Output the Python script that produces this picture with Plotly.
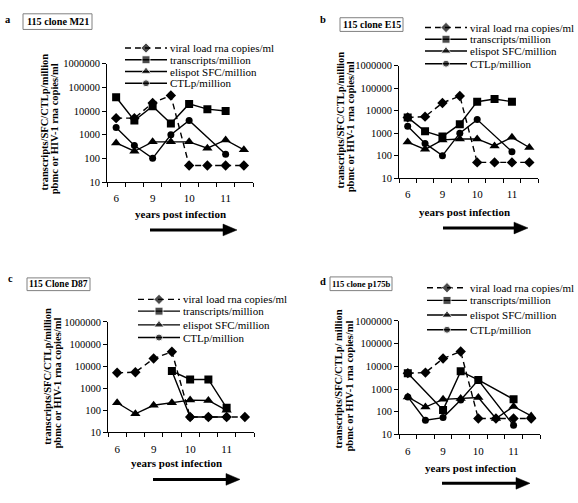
import plotly.graph_objects as go

W, H = 578, 503

# ---------------- data ----------------
POSITIONS = [0, 1, 2, 3, 4, 5, 6, 7]
X_TICK_VALS = [0, 2, 4, 6]
X_TICK_TEXT = ["6", "9", "10", "11"]
Y_TICK_VALS = [10, 100, 1000, 10000, 100000, 1000000]
Y_TICK_TEXT = ["10", "100", "1000", "10000", "100000", "1000000"]

SERIES_NAMES = ["viral load rna copies/ml", "transcripts/million",
                "elispot SFC/million", "CTLp/million"]

a_viral = [5000, 5000, 22000, 45000, 50, 50, 50, 50]
a_trans = [38000, 4000, 16000, 3000, 20000, 12000, 10000, None]
a_elis = [450, 200, 500, 500, 500, 270, 600, 230]
a_ctl = [2000, 350, 100, 1000, 4000, None, 150, None]

b_viral = [5000, 5400, 22000, 45000, 50, 50, 50, 50]
b_trans = [5000, 1200, 700, 2500, 25000, 33000, 25000, None]
b_elis = [400, 190, 500, 550, 550, 270, 650, 230]
b_ctl = [2000, 350, 100, 1000, 4000, None, 150, None]

c_viral = [5000, 5300, 22000, 45000, 50, 50, 50, 50]
c_trans = [None, None, None, 6000, 2500, 2500, 130, None]
c_elis = [220, 70, 170, 220, 290, 280, 100, None]
c_ctl = [None, None, None, 6000, 50, 50, 50, None]

d_viral = [5000, 5300, 22000, 45000, 50, 50, 50, 50]
d_trans = [5000, None, 120, 6000, 2500, None, 350, None]
d_elis = [450, 160, 350, 380, 420, 50, 170, 65]
d_ctl = [450, 42, 55, 330, 2500, None, 25, None]

TITLES = ["115 clone M21", "115 clone E15", "115 Clone D87", "115 clone p175b"]
LETTERS = ["a", "b", "c", "d"]
Y_TITLE_1 = ["transcripts/SFC/CTLp/million", "transcripts/SFC/CTLp/million",
             "transcripts/SFC/CTLp/million", "transcripts/SFC/CTLp/ million"]
Y_TITLE_2 = "pbmc or HIV-1 rna copies/ml"
X_TITLE = "years post infection"

# ---------------- layout geometry (pixels) ----------------
panels = [
    dict(data=[a_viral, a_trans, a_elis, a_ctl], x0=107, x1=253, ytop=60, ybot=181,
         letter=(8, 15), box=(23, 92, 9, 25), tsize=10.2, leg=(125, 167, [44, 56, 68, 80]),
         ytitle=(44, 54, 120, 127), xtitle=(180, 214), arrow=(150, 237, 230)),
    dict(data=[b_viral, b_trans, b_elis, b_ctl], x0=399, x1=538, ytop=62, ybot=177,
         letter=(323, 15), box=(340, 403, 13, 27), tsize=10, leg=(425, 467, [23, 35, 47, 60]),
         ytitle=(340, 350, 118, 125), xtitle=(464, 212), arrow=(443, 528, 228)),
    dict(data=[c_viral, c_trans, c_elis, c_ctl], x0=108, x1=254, ytop=324, ybot=437,
         letter=(10, 280), box=(27, 90, 279, 292), tsize=9.5, leg=(138, 180, [301, 313, 327, 340]),
         ytitle=(48, 58, 380, 387), xtitle=(176, 468), arrow=(153, 240, 485)),
    dict(data=[d_viral, d_trans, d_elis, d_ctl], x0=399, x1=540, ytop=323, ybot=439,
         letter=(323, 283), box=(330, 392, 278, 292), tsize=8.6, leg=(427, 467, [289, 302, 317, 332]),
         ytitle=(339, 349, 383, 390), xtitle=(470, 473), arrow=(442, 530, 489)),
]

SYMBOLS = ["diamond", "square", "triangle-up", "circle"]
SIZES = [8, 8, 9, 7]
DASHES = ["6px,4px", "solid", "solid", "solid"]

SERIF = "Liberation Serif, Times New Roman, Times, serif"

fig = go.Figure()
layout = dict(
    width=W, height=H, margin=dict(l=0, r=0, t=0, b=0),
    paper_bgcolor="white", plot_bgcolor="rgba(0,0,0,0)", showlegend=False,
    font=dict(family=SERIF, color="black"),
)
annotations = []
shapes = []

for i, p in enumerate(panels):
    n = i + 1
    xa = "x" if n == 1 else f"x{n}"
    ya = "y" if n == 1 else f"y{n}"
    for k, vals in enumerate(p["data"]):
        fig.add_trace(go.Scatter(
            x=POSITIONS, y=vals, xaxis=xa, yaxis=ya, mode="lines+markers",
            connectgaps=True, name=SERIES_NAMES[k],
            line=dict(color="black", width=1.4, dash=DASHES[k]),
            marker=dict(symbol=SYMBOLS[k], size=SIZES[k], color="black"),
            hoverinfo="skip"))
    layout["xaxis" if n == 1 else f"xaxis{n}"] = dict(
        domain=[p["x0"] / W, p["x1"] / W], anchor=ya, range=[-0.5, 7.5],
        showline=True, linecolor="black", linewidth=1, showgrid=False, zeroline=False,
        tickmode="array", tickvals=X_TICK_VALS, ticktext=X_TICK_TEXT,
        ticks="outside", ticklen=6, tickcolor="rgba(0,0,0,0)",
        tickfont=dict(size=11, family=SERIF),
        minor=dict(tickmode="array", tickvals=[v - 0.5 for v in range(9)],
                   ticks="outside", ticklen=4, tickcolor="black", showgrid=False),
        fixedrange=True)
    layout["yaxis" if n == 1 else f"yaxis{n}"] = dict(
        domain=[1 - p["ybot"] / H, 1 - p["ytop"] / H], anchor=xa, type="log",
        range=[1, 6], showline=True, linecolor="black", linewidth=1,
        showgrid=False, zeroline=False, tickmode="array",
        tickvals=Y_TICK_VALS, ticktext=Y_TICK_TEXT, ticks="outside", ticklen=4,
        tickcolor="black", tickfont=dict(size=10.5, family=SERIF), fixedrange=True)

    # panel letter
    annotations.append(dict(x=p["letter"][0], y=p["letter"][1], xref="x5", yref="y5",
                            text="<b>" + LETTERS[i] + "</b>", showarrow=False,
                            xanchor="center", yanchor="middle",
                            font=dict(size=10.5, family=SERIF)))
    # title box
    bx0, bx1, by0, by1 = p["box"]
    shapes.append(dict(type="rect", xref="x5", yref="y5", x0=bx0, x1=bx1, y0=by0, y1=by1,
                       line=dict(color="#808080", width=1)))
    annotations.append(dict(x=(bx0 + bx1) / 2, y=(by0 + by1) / 2, xref="x5", yref="y5",
                            text="<b>" + TITLES[i] + "</b>", showarrow=False,
                            xanchor="center", yanchor="middle",
                            font=dict(size=p["tsize"], family=SERIF)))
    # legend
    lx0, lx1, rows = p["leg"]
    for k, ry in enumerate(rows):
        fig.add_trace(go.Scatter(
            x=[lx0, (lx0 + lx1) / 2, lx1], y=[ry, ry, ry], xaxis="x5", yaxis="y5",
            mode="lines+markers", line=dict(color="black", width=1.4, dash=DASHES[k]),
            marker=dict(symbol=SYMBOLS[k], size=[0, SIZES[k], 0], color="black"),
            hoverinfo="skip"))
        annotations.append(dict(x=lx1 + 1, y=ry, xref="x5", yref="y5",
                                text=SERIES_NAMES[k], showarrow=False,
                                xanchor="left", yanchor="middle",
                                font=dict(size=11, family=SERIF)))
    # y title (two lines)
    tx1, tx2, ty1, ty2 = p["ytitle"]
    annotations.append(dict(x=tx1, y=ty1, xref="x5", yref="y5",
                            text="<b>" + Y_TITLE_1[i] + "</b>", showarrow=False,
                            textangle=-90, xanchor="center", yanchor="middle",
                            font=dict(size=10.5, family=SERIF)))
    annotations.append(dict(x=tx2, y=ty2, xref="x5", yref="y5",
                            text="<b>" + Y_TITLE_2 + "</b>", showarrow=False,
                            textangle=-90, xanchor="center", yanchor="middle",
                            font=dict(size=10.5, family=SERIF)))
    # x title
    annotations.append(dict(x=p["xtitle"][0], y=p["xtitle"][1], xref="x5", yref="y5",
                            text="<b>" + X_TITLE + "</b>", showarrow=False,
                            xanchor="center", yanchor="middle",
                            font=dict(size=11, family=SERIF)))
    # arrow
    ax0, ax1, ay = p["arrow"]
    shapes.append(dict(type="line", xref="x5", yref="y5", x0=ax0, x1=ax1 - 12, y0=ay, y1=ay,
                       line=dict(color="black", width=3)))
    shapes.append(dict(type="path", xref="x5", yref="y5",
                       path=f"M {ax1 - 14},{ay - 6} L {ax1},{ay} L {ax1 - 14},{ay + 6} Z",
                       fillcolor="black", line=dict(color="black", width=0.5)))

layout["xaxis5"] = dict(domain=[0, 1], range=[0, W], visible=False, fixedrange=True,
                        anchor="y5")
layout["yaxis5"] = dict(domain=[0, 1], range=[H, 0], visible=False, fixedrange=True,
                        anchor="x5")
layout["annotations"] = annotations
layout["shapes"] = shapes
fig.update_layout(**layout)
fig.write_html("out.html", config={"displayModeBar": False},
               post_script="document.body.style.margin='0px';"
                           "document.body.style.overflow='hidden';")
